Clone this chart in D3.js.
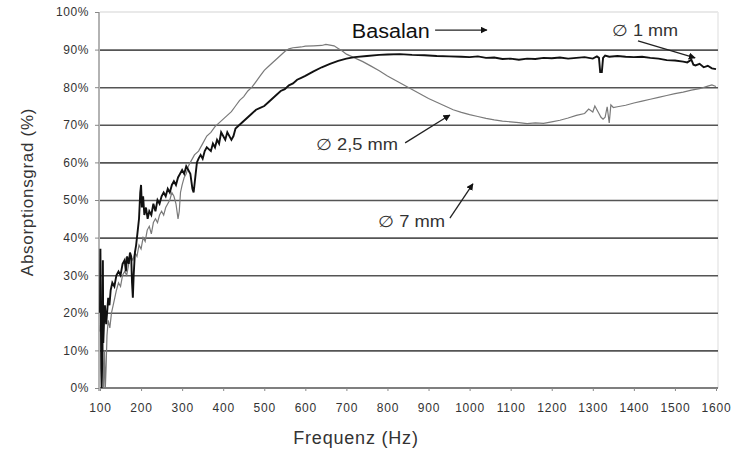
<!DOCTYPE html>
<html>
<head>
<meta charset="utf-8">
<script src="https://cdn.jsdelivr.net/npm/d3@7"></script>
<style>
  body { margin: 0; background: #fff; }
  text { font-family: "Liberation Sans", Arial, sans-serif; }
</style>
</head>
<body>
<div id="chart-area"></div>
<script>
// values

const yTicks = [0, 10, 20, 30, 40, 50, 60, 70, 80, 90, 100];
const xTicks = [100, 200, 300, 400, 500, 600, 700, 800, 900, 1000, 1100, 1200, 1300, 1400, 1500, 1600];

// Ø 1 mm (dark curve)
const freq1 = [100,101,103,104,106,107,108,110,112,115,118,120,123,126,130,135,140,145,150,155,160,163,166,170,173,176,178,180,182,185,188,192,195,198,200,202,205,208,212,216,220,225,230,235,240,245,250,255,260,265,270,275,280,285,290,295,300,305,310,315,320,325,328,332,336,340,345,350,355,360,370,375,380,385,390,395,400,405,410,420,425,430,440,450,460,470,480,490,500,510,520,530,540,550,560,570,580,590,600,620,640,660,680,700,720,750,780,800,830,860,890,920,950,980,1000,1020,1040,1060,1080,1100,1120,1140,1160,1180,1200,1220,1240,1260,1280,1300,1310,1315,1318,1322,1325,1330,1340,1360,1380,1400,1420,1440,1460,1480,1500,1520,1530,1540,1545,1550,1560,1570,1580,1590,1600];
const abs1 = [20,37,5,0,10,34,12,18,22,17,21,24,22,26,28,27,30,31,30,33,34,31,35,33,36,35,28,24,30,36,38,42,45,52,54,48,51,46,48,45,47,46,49,47,50,49,51,52,51,53,52,54,55,54,56,57,58,57,59,58,57,53,52,56,60,61,62,61,63,64,63,65,64,66,65,68,67,66,68,66,67,69,70,71,72,73,74,74.5,75,76,77,78,79,79.5,80.5,81,82,82.5,83,84.2,85.3,86.2,87,87.6,88,88.3,88.6,88.7,88.8,88.6,88.5,88.3,88.2,88.1,88,88.2,87.8,87.9,87.5,87.6,87.3,87.6,87.5,87.8,87.7,87.9,87.6,87.8,88,87.6,88.2,87.8,84,84,87.8,88.4,88.1,88.3,88.1,88,88.1,87.8,87.6,87.2,87.1,86.8,86.6,87.3,86,85.8,86.2,85.3,85.7,85,84.8];

// Ø 2,5 mm (grey curve)
const freq2 = [100,104,107,109,111,113,115,117,120,124,128,132,136,140,145,150,155,160,165,170,175,180,185,190,195,200,205,210,215,220,225,230,235,240,245,250,255,260,265,270,275,280,285,290,293,296,300,305,310,315,320,330,340,350,360,370,380,390,400,410,420,430,440,450,460,470,480,490,500,510,520,530,540,550,560,570,580,590,600,620,640,650,660,670,680,690,700,720,740,760,780,800,820,840,860,880,900,920,940,960,980,1000,1020,1040,1060,1080,1100,1120,1140,1160,1180,1200,1220,1240,1260,1280,1290,1300,1305,1310,1315,1320,1325,1330,1335,1340,1344,1350,1360,1380,1400,1420,1440,1460,1480,1500,1520,1540,1560,1580,1590,1600];
const abs2 = [15,22,8,0,10,0,6,14,18,16,20,22,24,26,28,27,30,31,30,33,35,34,36,35,38,37,40,39,42,43,41,44,45,44,46,47,46,48,49,50,52,51,49,45,47,52,54,56,57,59,60,62,63,65,67,68,69.5,70.5,71.5,72.5,73.5,75,76.5,77.5,79,80,81.5,83,84.5,85.5,86.5,87.5,88.5,89.5,90.2,90.5,90.6,90.7,90.9,91,91.1,91.4,91.2,91,90.3,89.6,88.8,87.8,86.8,85.6,84.4,83,81.8,80.6,79.4,78.2,77,76,75,74,73.3,72.7,72.2,71.7,71.3,71,70.8,70.6,70.3,70.5,70.4,70.8,71.2,71.8,72.5,73,74.2,73.4,75,74,73,72,71.5,72,74.8,70.5,75.3,74.6,74.8,75.2,75.8,76.3,76.8,77.3,77.8,78.3,78.7,79.2,79.6,80.3,80.6,80.2];

// labels with arrows, in data units (Hz, %)
const labelText = ["Basalan", "\u2205 1 mm", "\u2205 2,5 mm", "\u2205 7 mm"];
const labelHz = [713, 1347, 626, 777];
const labelPct = [94.9, 95, 64.9, 44.4];
const arrowFromHz = [916, 1410, 843, 952];
const arrowFromPct = [95.2, 92.3, 65.2, 45.2];
const arrowToHz = [1042, 1549, 952, 1008];
const arrowToPct = [95.2, 87.8, 72.6, 54.3];

// label type size and stretched width (the scan is a bit wide)
const labelSize = [20, 16, 16, 16];
const labelWidth = [78, 66, 82, 67];

const W = 745, H = 451;
const mLeft = 100, mRight = 716, mTop = 12, mBottom = 388;

const svg = d3.select("#chart-area").append("svg")
  .attr("width", W)
  .attr("height", H);

const x = d3.scaleLinear().domain([100, 1600]).range([mLeft, mRight]);
const y = d3.scaleLinear().domain([0, 100]).range([mBottom, mTop]);

svg.append("defs").append("marker")
  .attr("id", "head")
  .attr("viewBox", "0 0 10 10")
  .attr("refX", 9).attr("refY", 5)
  .attr("markerWidth", 7).attr("markerHeight", 7)
  .attr("markerUnits", "userSpaceOnUse")
  .attr("orient", "auto")
  .append("path")
  .attr("d", "M0,0 L10,5 L0,10 z")
  .attr("fill", "#111");

// faint frame top / right
svg.append("line")
  .attr("x1", x(100)).attr("x2", x(1600) + 2)
  .attr("y1", y(100)).attr("y2", y(100))
  .attr("stroke", "#e2e2e2").attr("stroke-width", 1.5);
svg.append("line")
  .attr("x1", x(1600) + 2).attr("x2", x(1600) + 2)
  .attr("y1", y(100)).attr("y2", y(0))
  .attr("stroke", "#e8e8e8").attr("stroke-width", 1.5);

// horizontal grid
svg.append("g")
  .attr("transform", `translate(${mLeft},0)`)
  .call(d3.axisLeft(y).tickValues(yTicks.filter(d => d > 0 && d < 100))
    .tickSize(-(mRight - mLeft + 2)).tickFormat(""))
  .call(g => g.select(".domain").remove())
  .call(g => g.selectAll("line").attr("stroke", "#555").attr("stroke-width", 1.6));

// y axis
const yAxis = svg.append("g")
  .attr("transform", `translate(${mLeft - 1},0)`)
  .call(d3.axisLeft(y).tickValues(yTicks).tickSize(4).tickPadding(6).tickFormat(d => d + "%"));
yAxis.select(".domain").attr("stroke", "#8a8a8a").attr("stroke-width", 1.3).attr("d", `M0,${mTop}V${mBottom + 3}`);
yAxis.selectAll("line").attr("stroke", "#888");
yAxis.selectAll("text").attr("fill", "#333").attr("font-size", 12).attr("letter-spacing", 0.6)
  .attr("font-family", "'Liberation Sans', Arial, sans-serif");

// x axis
const xAxis = svg.append("g")
  .attr("transform", `translate(0,${mBottom})`)
  .call(d3.axisBottom(x).tickValues(xTicks).tickSize(3).tickPadding(12).tickFormat(d3.format("d")));
xAxis.select(".domain").attr("stroke", "#555").attr("stroke-width", 1.6).attr("d", `M${mLeft},0H${mRight + 2}`);
xAxis.selectAll("line").attr("stroke", "#888");
xAxis.selectAll("text").attr("fill", "#333").attr("font-size", 12).attr("letter-spacing", 0.8)
  .attr("font-family", "'Liberation Sans', Arial, sans-serif");

// axis titles
svg.append("text")
  .attr("transform", `translate(33,${(mTop + mBottom) / 2 - 8}) rotate(-90)`)
  .attr("text-anchor", "middle")
  .attr("font-size", 17)
  .attr("fill", "#333")
  .attr("letter-spacing", 0.7)
  .text("Absorptionsgrad (%)");

svg.append("text")
  .attr("x", 356)
  .attr("y", 444)
  .attr("text-anchor", "middle")
  .attr("font-size", 18)
  .attr("fill", "#333")
  .attr("letter-spacing", 0.8)
  .text("Frequenz (Hz)");

// curves
const line = d3.line().x(d => x(d[0])).y(d => y(d[1]));

svg.append("path")
  .datum(freq2.map((f, i) => [f, abs2[i]]))
  .attr("d", line)
  .attr("fill", "none")
  .attr("stroke", "#7a7a7a")
  .attr("stroke-width", 1.2);

svg.append("path")
  .datum(freq1.map((f, i) => [f, abs1[i]]))
  .attr("d", line)
  .attr("fill", "none")
  .attr("stroke", "#111")
  .attr("stroke-width", 1.9);

// annotations
labelText.forEach((t, i) => {
  svg.append("text")
    .attr("x", x(labelHz[i]))
    .attr("y", y(labelPct[i]))
    .attr("dy", "0.35em")
    .attr("font-size", labelSize[i])
    .attr("fill", i == 0 ? "#111" : "#333")
    .attr("textLength", labelWidth[i])
    .attr("lengthAdjust", "spacingAndGlyphs")
    .text(t);
  svg.append("line")
    .attr("x1", x(arrowFromHz[i])).attr("y1", y(arrowFromPct[i]))
    .attr("x2", x(arrowToHz[i])).attr("y2", y(arrowToPct[i]))
    .attr("stroke", "#222")
    .attr("stroke-width", 1.3)
    .attr("marker-end", "url(#head)");
});
</script>
</body>
</html>
